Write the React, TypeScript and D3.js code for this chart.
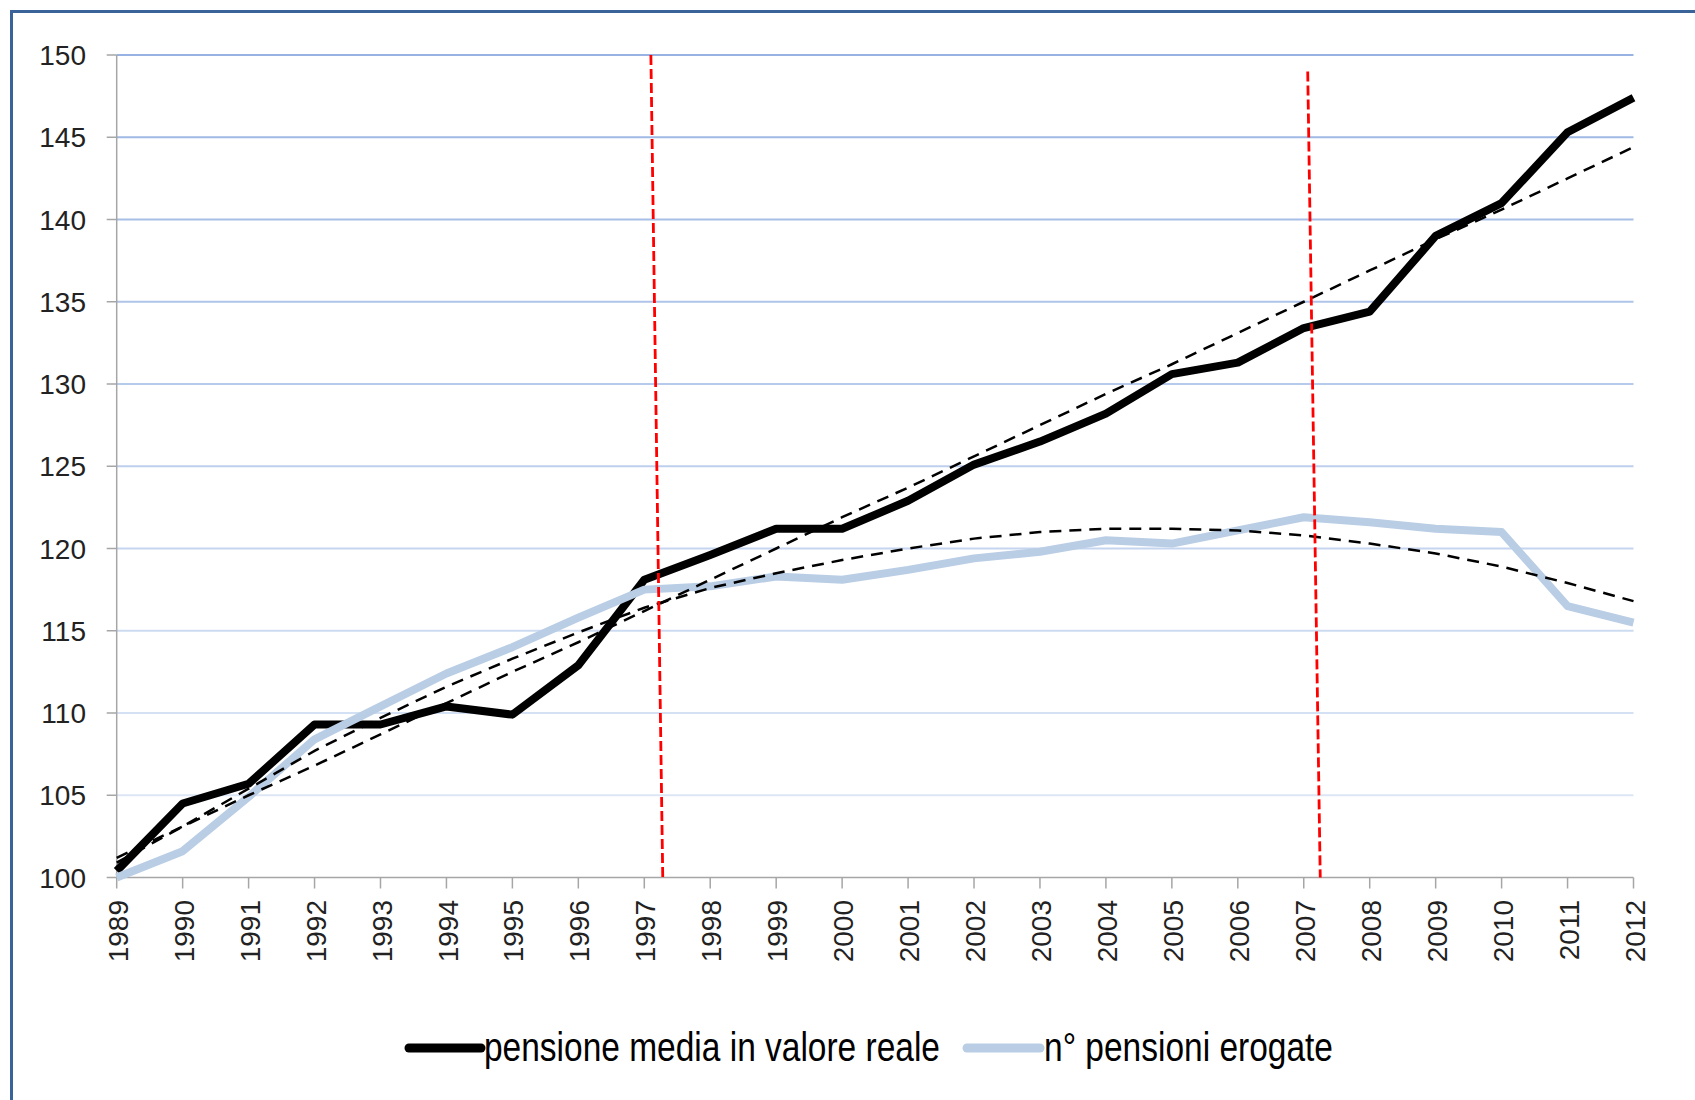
import React from "react";
import * as d3 from "d3";

const years = [1989,1990,1991,1992,1993,1994,1995,1996,1997,1998,1999,2000,2001,2002,2003,2004,2005,2006,2007,2008,2009,2010,2011,2012];
const pensioneMedia = [100.4,104.5,105.7,109.3,109.3,110.4,109.9,112.9,118.1,119.6,121.2,121.2,122.9,125.1,126.5,128.2,130.6,131.3,133.4,134.4,139.0,141.0,145.3,147.4];
const nPensioni = [100.0,101.6,104.9,108.4,110.4,112.4,114.0,115.8,117.5,117.7,118.3,118.1,118.7,119.4,119.8,120.5,120.3,121.1,121.9,121.6,121.2,121.0,116.5,115.5];
const trendPensioneMedia = [101.2,103.1,105.0,106.8,108.7,110.6,112.5,114.3,116.2,118.1,120.0,121.9,123.7,125.6,127.5,129.4,131.2,133.1,135.0,136.9,138.8,140.6,142.5,144.4];
const trendNPensioni = [100.9,103.1,105.4,107.7,109.7,111.6,113.3,114.9,116.4,117.6,118.5,119.3,120.0,120.6,121.0,121.2,121.2,121.1,120.8,120.3,119.7,118.9,117.9,116.8];
const yTicks = [100,105,110,115,120,125,130,135,140,145,150];
const markerTopYears = [1997.10, 2007.06];
const markerBottomYears = [1997.28, 2007.25];
const markerTopValues = [150, 149.0];
const legendLabels = ["pensione media in valore reale", "n° pensioni erogate"];

const W = 1695, H = 1100;

export default function App() {
  const x = d3.scaleLinear().domain([1989, 2012]).range([116.7, 1633.5]);
  const y = d3.scaleLinear().domain([100, 150]).range([877.5, 55]);
  const gridColor = d3.interpolateRgb("#dce6f5", "#98b3e3");
  const line = d3.line<number>().x((_, i) => x(years[i])).y((v) => y(v));
  const font = "'Liberation Sans', Arial, sans-serif";
  const narrow = "'Liberation Sans Narrow', 'Liberation Sans', Arial, sans-serif";

  return (
    <svg width={W} height={H} style={{ position: "absolute", left: 0, top: 0, background: "#fff" }}>
      <rect x={0} y={0} width={W} height={H} fill="#fff" />
      <rect x={11.5} y={11.5} width={2000} height={2000} fill="none" stroke="#3A6399" strokeWidth={3} />
      {/* gridlines */}
      {yTicks.filter((t) => t > 100).map((t) => (
        <line key={t} x1={x(1989)} x2={x(2012)} y1={y(t)} y2={y(t)}
          stroke={gridColor((t - 105) / 45)} strokeWidth={2} />
      ))}
      {/* axes */}
      <line x1={x(1989)} x2={x(1989)} y1={y(150)} y2={y(100)} stroke="#a6a6a6" strokeWidth={1.5} />
      <line x1={x(1989)} x2={x(2012)} y1={y(100)} y2={y(100)} stroke="#a6a6a6" strokeWidth={1.5} />
      {yTicks.map((t) => (
        <g key={t}>
          <line x1={x(1989) - 10} x2={x(1989)} y1={y(t)} y2={y(t)} stroke="#a6a6a6" strokeWidth={1.5} />
          <text x={86} y={y(t)} dy="0.36em" textAnchor="end" fontFamily={font} fontSize={28} fill="#222">{t}</text>
        </g>
      ))}
      {years.map((yr) => (
        <g key={yr}>
          <line x1={x(yr)} x2={x(yr)} y1={y(100)} y2={y(100) + 11} stroke="#a6a6a6" strokeWidth={1.5} />
          <text transform={`translate(${x(yr) + 1},${900}) rotate(-90)`} dy="0.36em" textAnchor="end"
            fontFamily={font} fontSize={28} fill="#222">{yr}</text>
        </g>
      ))}
      {/* series */}
      <path d={line(pensioneMedia) || ""} fill="none" stroke="#000" strokeWidth={8} strokeLinejoin="round" />
      <path d={line(nPensioni) || ""} fill="none" stroke="#b9cde5" strokeWidth={8} strokeLinejoin="round" />
      {/* trendlines */}
      <path d={line(trendPensioneMedia) || ""} fill="none" stroke="#000" strokeWidth={2.5} strokeDasharray="12,8" />
      <path d={line(trendNPensioni) || ""} fill="none" stroke="#000" strokeWidth={2.5} strokeDasharray="12,8" />
      {/* red markers */}
      {markerTopYears.map((yr, i) => (
        <line key={yr} x1={x(yr)} y1={y(markerTopValues[i])} x2={x(markerBottomYears[i])} y2={y(100)}
          stroke="#ff0000" strokeWidth={2.8} strokeDasharray="10,4" />
      ))}
      {/* legend */}
      <line x1={409} x2={481} y1={1048} y2={1048} stroke="#000" strokeWidth={9} strokeLinecap="round" />
      <text x={484} y={1061} fontFamily={narrow} fontSize={40} fill="#000" textLength={456} lengthAdjust="spacingAndGlyphs">{legendLabels[0]}</text>
      <line x1={967} x2={1040} y1={1048} y2={1048} stroke="#b9cde5" strokeWidth={9} strokeLinecap="round" />
      <text x={1044} y={1061} fontFamily={narrow} fontSize={40} fill="#000" textLength={289} lengthAdjust="spacingAndGlyphs">{legendLabels[1]}</text>
    </svg>
  );
}
